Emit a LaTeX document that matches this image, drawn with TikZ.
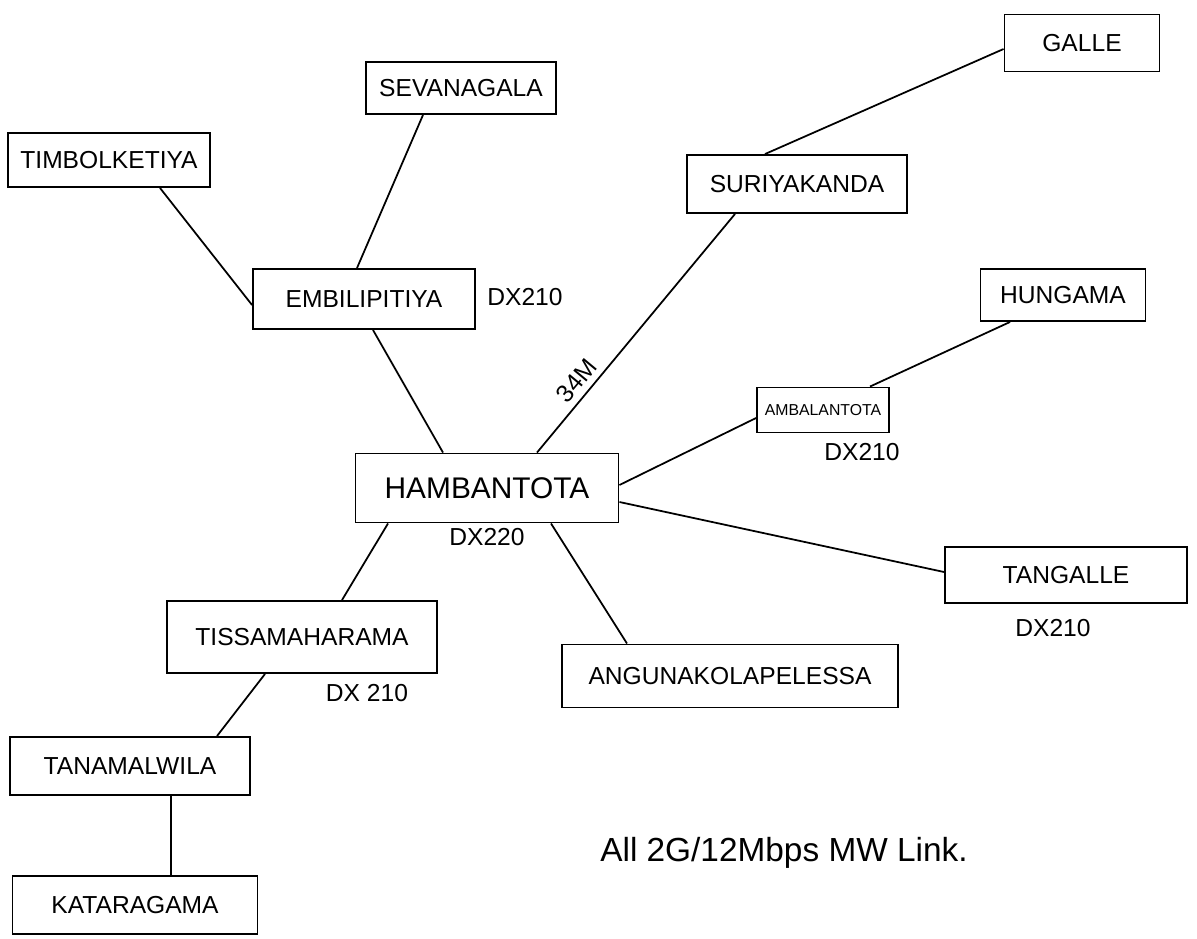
\documentclass[tikz,border=0pt]{standalone}
\usepackage{fontspec}
\setmainfont{Liberation Sans}
\usetikzlibrary{calc}

\tikzset{
  site/.style={draw, line width=1.1pt, inner sep=0pt, font=\fontsize{14}{16}\selectfont},
  tag/.style={font=\fontsize{14}{16}\selectfont},
  link/.style={line width=1pt}
}

\begin{document}
\begin{tikzpicture}[x=0.02cm, y=-0.02cm]
\useasboundingbox (0,0) rectangle (1197,938);

\node[site, minimum width=3.1cm, minimum height=1.14cm] (galle) at (1082,43) {GALLE};
\node[site, minimum width=3.8cm, minimum height=1.04cm] (seva) at (461,88) {SEVANAGALA};
\node[site, minimum width=4.04cm, minimum height=1.08cm] (timbol) at (109,160) {TIMBOLKETIYA};
\node[site, minimum width=4.4cm, minimum height=1.16cm] (suri) at (797,184) {SURIYAKANDA};

\node[site, minimum width=4.44cm, minimum height=1.2cm] (embili) at (364,299) {EMBILIPITIYA};
\node[tag] at (525,297) {DX210};

\node[site, minimum width=3.3cm, minimum height=1.04cm] (hung) at (1063,295) {HUNGAMA};
\node[site, minimum width=2.64cm, minimum height=0.9cm, font=\fontsize{9}{11}\selectfont] (amb) at (823,410) {AMBALANTOTA};
\node[tag] at (862,452) {DX210};

\node[site, minimum width=5.26cm, minimum height=1.38cm, font=\fontsize{17}{19}\selectfont] (hamb) at (487,488) {HAMBANTOTA};
\node[tag] at (487,537) {DX220};

\node[site, minimum width=4.84cm, minimum height=1.12cm] (tang) at (1066,575) {TANGALLE};
\node[tag] at (1053,628) {DX210};

\node[site, minimum width=5.4cm, minimum height=1.44cm] (tissa) at (302,637) {TISSAMAHARAMA};
\node[tag] at (367,693) {DX 210};

\node[site, minimum width=6.72cm, minimum height=1.26cm] (angu) at (730,676) {ANGUNAKOLAPELESSA};
\node[site, minimum width=4.8cm, minimum height=1.16cm] (tanam) at (130,766) {TANAMALWILA};
\node[site, minimum width=4.9cm, minimum height=1.16cm] (kata) at (135,905) {KATARAGAMA};

\node[tag, font=\fontsize{19}{21}\selectfont] (note) at (784,853) {All 2G/12Mbps MW Link.};

% links
\draw[link] ($(galle.west)+(0,6)$) -- ($(suri.north)+(-32,0)$);
\draw[link] ($(suri.south)+(-62,0)$) -- node[tag, sloped, above, pos=0.74] {34M} ($(hamb.north)+(50,0)$);
\draw[link] ($(seva.south)+(-38,0)$) -- ($(embili.north)+(-7,0)$);
\draw[link] ($(timbol.south)+(51,0)$) -- ($(embili.west)+(0,6)$);
\draw[link] ($(embili.south)+(9,0)$) -- ($(hamb.north)+(-44,0)$);
\draw[link] ($(hung.south)+(-53,0)$) -- ($(amb.north)+(47,0)$);
\draw[link] ($(amb.west)+(0,8)$) -- ($(hamb.east)+(0,-3)$);
\draw[link] ($(hamb.east)+(0,14)$) -- ($(tang.west)+(0,-3)$);
\draw[link] ($(hamb.south)+(64,0)$) -- ($(angu.north)+(-103,0)$);
\draw[link] ($(hamb.south)+(-99,0)$) -- ($(tissa.north)+(40,0)$);
\draw[link] ($(tissa.south)+(-37,0)$) -- ($(tanam.north)+(87,0)$);
\draw[link] ($(tanam.south)+(41,0)$) -- ($(kata.north)+(36,0)$);
\end{tikzpicture}
\end{document}
